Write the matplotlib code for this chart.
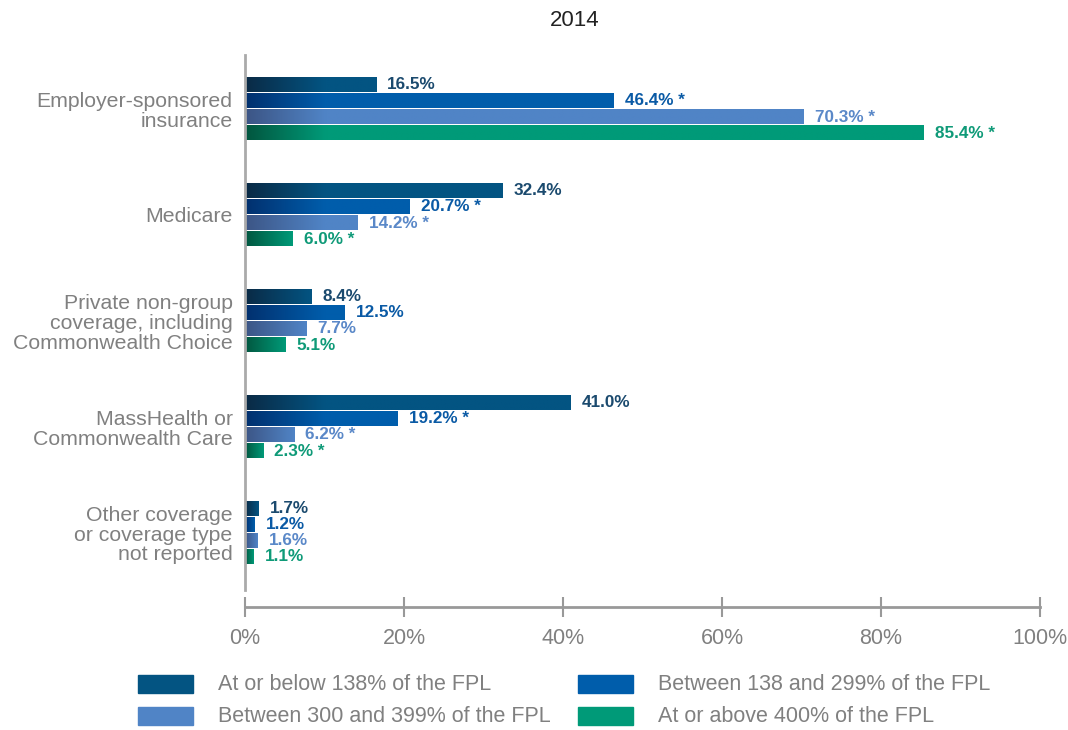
import numpy as np
import matplotlib.pyplot as plt
from matplotlib.colors import to_rgb
from matplotlib.patches import Rectangle

categories = ['Employer-sponsored\ninsurance', 'Medicare',
              'Private non-group\ncoverage, including\nCommonwealth Choice',
              'MassHealth or\nCommonwealth Care',
              'Other coverage\nor coverage type\nnot reported']
series = ['At or below 138% of the FPL', 'Between 138 and 299% of the FPL',
          'Between 300 and 399% of the FPL', 'At or above 400% of the FPL']
below_138 = [16.5, 32.4, 8.4, 41.0, 1.7]
btw_138_299 = [46.4, 20.7, 12.5, 19.2, 1.2]
btw_300_399 = [70.3, 14.2, 7.7, 6.2, 1.6]
above_400 = [85.4, 6.0, 5.1, 2.3, 1.1]
significant = [
    [False, False, False, False, False],
    [True, True, False, True, False],
    [True, True, False, True, False],
    [True, True, False, True, False],
]

colors = ['#035482', '#005dab', '#5084c6', '#009a78']
start_colors = ['#0a2a45', '#02306e', '#3c5585', '#02563f']
label_colors = ['#1b4a6e', '#0a5aa5', '#5a88c8', '#0f9a78']
font = 'Liberation Sans'
grey = '#808080'

values = [below_138, btw_138_299, btw_300_399, above_400]

fig = plt.figure(figsize=(10.68, 7.30), dpi=100)
ax = fig.add_axes([245 / 1068, 1 - 590 / 730, 795 / 1068, 535 / 730])

# spines first: set_position resets the ticks
for side in ['top', 'right']:
    ax.spines[side].set_visible(False)
ax.spines['bottom'].set_position(('outward', 12.2))
ax.spines['bottom'].set_color('#999999')
ax.spines['bottom'].set_linewidth(2)
ax.spines['left'].set_color('#aaaaaa')
ax.spines['left'].set_linewidth(2)

gap = 0.152
h = 0.136
grad_len = 10.0

for s, vals in enumerate(values):
    c0 = np.array(to_rgb(start_colors[s]))
    c1 = np.array(to_rgb(colors[s]))
    for i, v in enumerate(vals):
        y = i + (s - 1.5) * gap
        gl = min(v, grad_len)
        xs = np.linspace(0, v, 200)
        t = np.clip(xs / gl, 0, 1)
        img = c0[None, :] * (1 - t[:, None]) + c1[None, :] * t[:, None]
        ax.imshow(img[None, :, :], extent=[0, v, y + h / 2, y - h / 2],
                  aspect='auto', interpolation='bilinear', zorder=2)
        txt = f'{v:.1f}%' + (' *' if significant[s][i] else '')
        ax.text(v + 1.4, y, txt, color=label_colors[s], fontsize=12.3,
                fontweight='bold', va='center', ha='left', family=font)

ax.set_xlim(0, 100)
ax.set_ylim(4.54, -0.51)
ax.tick_params(axis='y', length=0, pad=9)
ax.tick_params(axis='x', direction='inout', length=14, width=1.5,
               color='#999999', pad=8)
ax.set_yticks(range(len(categories)))
ax.set_yticklabels(categories, fontsize=15.3, color=grey, family=font,
                   linespacing=1.05)
ax.set_xticks(np.arange(0, 101, 20))
ax.set_xticklabels([f'{x}%' for x in range(0, 101, 20)], fontsize=15.5,
                   color=grey, family=font)

fig.text(575 / 1068, 1 - 20 / 730, '2014', ha='center', va='center',
         fontsize=16, color='#222222', family=font)

# legend
pos = [(138, 684), (578, 684), (138, 716), (578, 716)]
for s, (px, py) in enumerate(pos):
    fig.patches.append(Rectangle((px / 1068, 1 - (py + 9) / 730), 55 / 1068,
                                 18 / 730, transform=fig.transFigure,
                                 color=colors[s]))
    fig.text((px + 80) / 1068, 1 - py / 730, series[s], ha='left',
             va='center', fontsize=15.5, color=grey, family=font)

fig.savefig('out.png', dpi=100)
